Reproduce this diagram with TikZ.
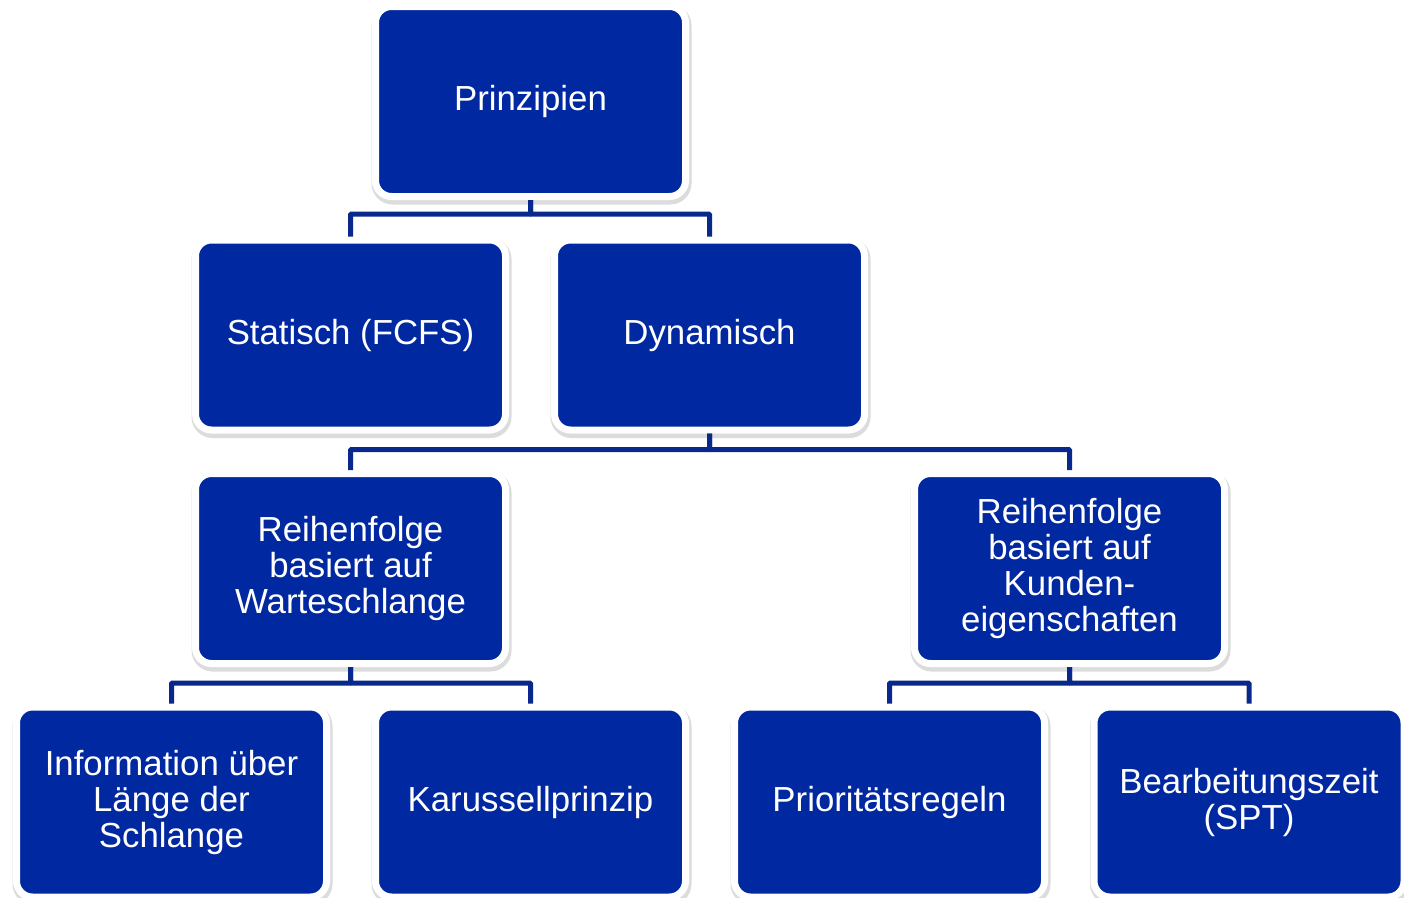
\documentclass[tikz,border=0pt]{standalone}
\usepackage{fontspec}
\setmainfont{Liberation Sans}
\usepackage{tikz}
\usetikzlibrary{shadows}
\definecolor{boxblue}{RGB}{0,40,160}
\definecolor{lineblue}{RGB}{8,40,140}
\tikzset{
  stage/.style={rectangle,rounded corners=16pt,fill=boxblue,draw=white,line width=7pt,
    minimum width=310pt,minimum height=190pt,inner sep=0pt,align=center,text=white,
    font=\fontsize{34.8}{36}\selectfont,
    drop shadow={shadow xshift=1pt,shadow yshift=-3pt,fill=black!45,draw=black!45,line width=10pt,opacity=0.3}},
  link/.style={draw=lineblue,line width=5pt,rounded corners=1pt}
}
\begin{document}
\begin{tikzpicture}[x=1pt,y=-1pt]
		\useasboundingbox (0,0) rectangle (1404,897);
		\clip (0,0) rectangle (1404,897);
			\node[stage] (prinz) at (530.5,101.5) {Prinzipien};
			\node[stage] (stat) at (350.5,335) {Statisch (FCFS)};
			\node[stage] (dyn) at (709.5,335) {Dynamisch};
			\node[stage] (warte) at (350.5,568.5) {Reihenfolge\\basiert auf\\Warteschlange};
			\node[stage] (kunde) at (1069.5,568.5) {Reihenfolge\\basiert auf\\Kunden-\\eigenschaften};
			\node[stage] (info) at (171.5,802) {Information über\\Länge der\\Schlange};
			\node[stage] (karu) at (530.5,802) {Karussellprinzip};
			\node[stage] (prio) at (889.5,802) {Prioritätsregeln};
			\node[stage] (spt) at (1249,802) {Bearbeitungszeit\\(SPT)};
			% Verbindungen
			\draw[link] (prinz.south) -- ++(0,14) -| (stat.north);
			\draw[link] (prinz.south) -- ++(0,14) -| (dyn.north);
			\draw[link] (dyn.south) -- ++(0,16) -| (warte.north);
			\draw[link] (dyn.south) -- ++(0,16) -| (kunde.north);
			\draw[link] (warte.south) -- ++(0,16) -| (info.north);
			\draw[link] (warte.south) -- ++(0,16) -| (karu.north);
			\draw[link] (kunde.south) -- ++(0,16) -| (prio.north);
			\draw[link] (kunde.south) -- ++(0,16) -| (spt.north);
		\end{tikzpicture}
\end{document}
